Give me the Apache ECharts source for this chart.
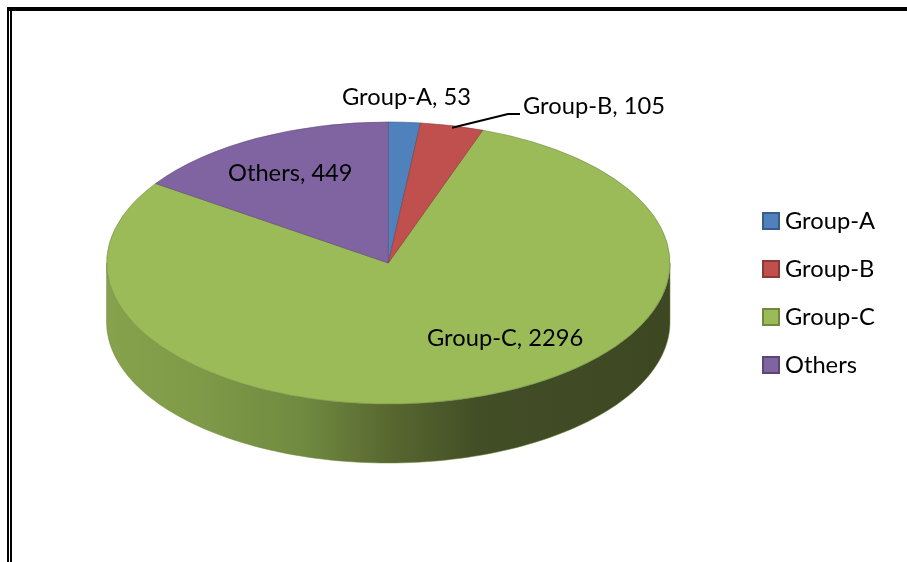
<!DOCTYPE html>
<html>
<head>
<meta charset="utf-8">
<style>html,body{margin:0;padding:0;background:#fff}#c{width:907px;height:562px}</style>
<script src="https://cdn.jsdelivr.net/npm/echarts@6/dist/echarts.min.js"></script>
</head>
<body>
<div id="c"></div>
<script>
const categories = ['Group-A', 'Group-B', 'Group-C', 'Others'];
const values = [53, 105, 2296, 449];
const colors = ['#4f81bd', '#c0504d', '#9bbb59', '#8064a2'];
const edgeColors = ['#385d8a', '#8c3836', '#71893f', '#5c4776'];

const CX = 388.3, CY = 263, RX = 281.7, RY = 141, DEPTH = 59;
const FONT = '23.7px Lato, Carlito, sans-serif';
const labelSpots = [[342, 97], [523, 106], [427, 338], [228, 173]];
const leader = [[508, 114], [520, 114]];

const total = values.reduce((a, b) => a + b, 0);
const startOf = i => values.slice(0, i).reduce((a, b) => a + b, 0) / total * Math.PI * 2;
const rim = (t, dy) => [CX + RX * Math.sin(t), CY + dy - RY * Math.cos(t)];

const sideFill = {
  type: 'linear', global: true, x: CX - RX, y: 0, x2: CX + RX, y2: 0,
  colorStops: [
    { offset: 0, color: '#87a24c' }, { offset: 0.15, color: '#809b48' },
    { offset: 0.35, color: '#708a40' }, { offset: 0.5, color: '#586830' },
    { offset: 0.66, color: '#424e26' }, { offset: 1, color: '#3d4822' }
  ]
};

function renderSlice(params, api) {
  const i = params.seriesIndex;
  const a0 = startOf(i), a1 = a0 + api.value(0) / total * Math.PI * 2;
  const children = [];
  // extruded wall: the part of the slice facing the viewer
  const f0 = Math.max(a0, Math.PI / 2), f1 = Math.min(a1, Math.PI * 1.5);
  if (f1 > f0) {
    const pts = [];
    const n = 120;
    for (let k = 0; k <= n; k++) pts.push(rim(f0 + (f1 - f0) * k / n, 0));
    for (let k = n; k >= 0; k--) pts.push(rim(f0 + (f1 - f0) * k / n, DEPTH));
    children.push({ type: 'polygon', shape: { points: pts }, style: { fill: sideFill, stroke: '#6d8038', lineWidth: 0.5 } });
  }
  // top face: a sector flattened into an ellipse
  children.push({
    type: 'group', x: CX, y: CY, scaleY: RY / RX,
    children: [{
      type: 'sector',
      shape: { cx: 0, cy: 0, r0: 0, r: RX, startAngle: a0 - Math.PI / 2, endAngle: a1 - Math.PI / 2, clockwise: true },
      style: { fill: colors[i], stroke: edgeColors[i], lineWidth: 0.8 }
    }]
  });
  if (i === 1) {
    const m = rim((a0 + a1) / 2, 2);
    children.push({ type: 'polyline', z2: 20, shape: { points: [m].concat(leader) }, style: { fill: 'none', stroke: '#000', lineWidth: 2 } });
  }
  children.push({
    type: 'text', z2: 30, x: labelSpots[i][0], y: labelSpots[i][1],
    style: { text: categories[i] + ', ' + values[i], font: FONT, fill: '#000', align: 'left', verticalAlign: 'middle' }
  });
  return { type: 'group', children };
}

const chart = echarts.init(document.getElementById('c'), null, { renderer: 'canvas' });
chart.setOption({
  animation: false,
  backgroundColor: '#fff',
  legend: {
    orient: 'vertical', left: 762, top: 209, padding: 0, icon: 'rect',
    itemWidth: 16, itemHeight: 16, itemGap: 24,
    textStyle: { fontFamily: 'Lato, Carlito, sans-serif', fontSize: 23.7, color: '#000', padding: [0, 0, 0, 1] },
    selectedMode: false,
    data: categories.map((name, i) => ({ name, itemStyle: { color: colors[i], borderColor: edgeColors[i], borderWidth: 2 } }))
  },
  graphic: [
    { type: 'rect', shape: { x: 7, y: 7, width: 900, height: 4 }, style: { fill: '#000' } },
    { type: 'rect', shape: { x: 7, y: 7, width: 2, height: 555 }, style: { fill: '#000' } },
    { type: 'rect', shape: { x: 10, y: 7, width: 2, height: 555 }, style: { fill: '#000' } }
  ],
  series: categories.map((name, i) => ({
    type: 'custom', name, coordinateSystem: 'none', silent: true,
    itemStyle: { color: colors[i] },
    z: i === 2 ? 1 : 2,
    renderItem: renderSlice,
    data: [[values[i]]]
  }))
});
</script>
</body>
</html>
